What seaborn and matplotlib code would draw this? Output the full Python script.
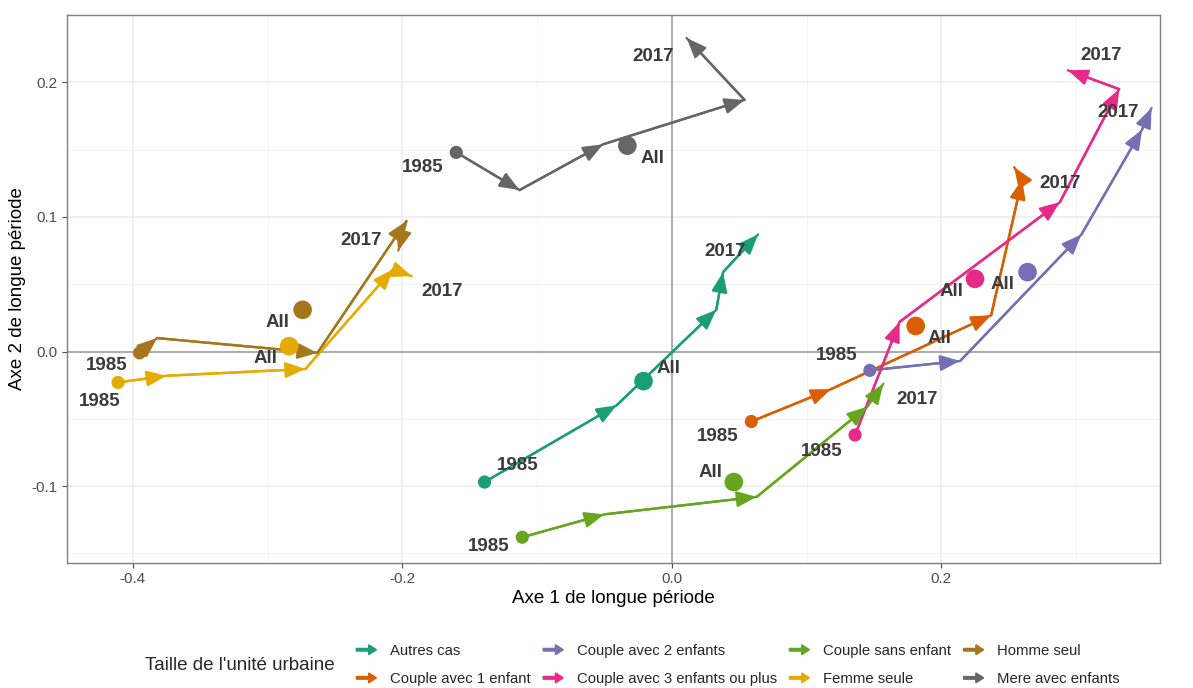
import numpy as np
import pandas as pd
import seaborn as sns
import matplotlib.pyplot as plt
from matplotlib.patches import FancyArrow, Patch
from matplotlib.legend_handler import HandlerPatch
from matplotlib.ticker import MultipleLocator, FormatStrFormatter

groups = ['Autres cas', 'Couple avec 1 enfant', 'Couple avec 2 enfants',
          'Couple avec 3 enfants ou plus', 'Couple sans enfant', 'Femme seule',
          'Homme seul', 'Mere avec enfants']

# trajectories 1985 -> 2017 (one list per group)
path_x = [[-0.139, -0.041, 0.033, 0.038, 0.064],
          [0.059, 0.118, 0.237, 0.260, 0.254],
          [0.147, 0.214, 0.304, 0.349, 0.356],
          [0.136, 0.169, 0.288, 0.332, 0.294],
          [-0.111, -0.050, 0.063, 0.145, 0.157],
          [-0.411, -0.375, -0.272, -0.207, -0.193],
          [-0.395, -0.382, -0.263, -0.197, -0.203],
          [-0.160, -0.113, -0.051, 0.054, 0.011]]
path_y = [[-0.097, -0.040, 0.031, 0.059, 0.087],
          [-0.052, -0.028, 0.027, 0.128, 0.137],
          [-0.014, -0.007, 0.087, 0.165, 0.181],
          [-0.062, 0.022, 0.111, 0.195, 0.209],
          [-0.138, -0.121, -0.108, -0.041, -0.024],
          [-0.023, -0.018, -0.013, 0.061, 0.056],
          [-0.001, 0.010, -0.001, 0.097, 0.075],
          [0.148, 0.120, 0.154, 0.187, 0.233]]

# overall position ("All")
all_x = [-0.021, 0.181, 0.264, 0.225, 0.046, -0.284, -0.274, -0.033]
all_y = [-0.022, 0.019, 0.059, 0.054, -0.097, 0.004, 0.031, 0.153]

first_year, last_year, all_label = '1985', '2017', 'All'

# label offsets in points (repel-like placement)
off_first = [(24, 12), (-24, -11), (-24, 11), (-24, -12), (-24, -7), (-13, -14), (-24, -9), (-24, -11)]
off_all = [(18, 9), (17, -9), (-18, -9), (-17, -9), (-17, 7), (-17, -9), (-18, -9), (18, -9)]
off_last = [(-24, -12), (33, -12), (-24, -3), (24, 11), (24, -11), (22, -11), (-27, 7), (-24, -13)]

rows = []
for g, xs, ys in zip(groups, path_x, path_y):
    for i, (x, y) in enumerate(zip(xs, ys)):
        rows.append({'groupe': g, 'step': i, 'x': x, 'y': y})
df = pd.DataFrame(rows)
df_all = pd.DataFrame({'groupe': groups, 'x': all_x, 'y': all_y})

sns.set_theme(style='whitegrid')
plt.rcParams['font.family'] = ['Liberation Sans', 'DejaVu Sans']
plt.rcParams['axes.unicode_minus'] = False

palette = dict(zip(groups, sns.color_palette('Dark2', 8)))

fig, ax = plt.subplots(figsize=(11.93, 6.88), dpi=100)
fig.subplots_adjust(left=0.056, right=0.972, top=0.978, bottom=0.182)

ax.axhline(0, color='#9a9a9a', lw=1.1, zorder=1)
ax.axvline(0, color='#9a9a9a', lw=1.1, zorder=1)

sns.lineplot(data=df, x='x', y='y', hue='groupe', estimator=None, sort=False,
             palette=palette, lw=1.7, legend=False, ax=ax, zorder=2)

# arrowheads at the end of every segment
for g, xs, ys in zip(groups, path_x, path_y):
    for i in range(1, len(xs)):
        ax.annotate('', xy=(xs[i], ys[i]), xytext=(xs[i - 1], ys[i - 1]),
                    arrowprops=dict(arrowstyle='-|>,head_length=0.6,head_width=0.24',
                                    color=palette[g], lw=1.7, mutation_scale=20,
                                    shrinkA=0, shrinkB=0), zorder=3)

sns.scatterplot(data=df[df.step == 0], x='x', y='y', hue='groupe', palette=palette,
                s=90, edgecolor='none', legend=False, ax=ax, zorder=4)
sns.scatterplot(data=df_all, x='x', y='y', hue='groupe', palette=palette,
                s=180, edgecolor='none', legend=False, ax=ax, zorder=4)

txt = dict(textcoords='offset points', ha='center', va='center',
           fontsize=13.5, fontweight='bold', color='#3b3b3b', zorder=5)
for k, g in enumerate(groups):
    ax.annotate(first_year, (path_x[k][0], path_y[k][0]), xytext=off_first[k], **txt)
    ax.annotate(all_label, (all_x[k], all_y[k]), xytext=off_all[k], **txt)
    ax.annotate(last_year, (path_x[k][-1], path_y[k][-1]), xytext=off_last[k], **txt)

ax.set_xlim(-0.449, 0.362)
ax.set_ylim(-0.157, 0.250)
ax.xaxis.set_major_locator(MultipleLocator(0.2))
ax.xaxis.set_minor_locator(MultipleLocator(0.1))
ax.yaxis.set_major_locator(MultipleLocator(0.1))
ax.yaxis.set_minor_locator(MultipleLocator(0.05))
ax.xaxis.set_major_formatter(FormatStrFormatter('%.1f'))
ax.yaxis.set_major_formatter(FormatStrFormatter('%.1f'))
ax.grid(which='major', color='#ebebeb', lw=1.1)
ax.grid(which='minor', color='#f3f3f3', lw=0.6)
ax.set_axisbelow(True)
ax.tick_params(which='major', bottom=True, left=True, length=3.5, width=0.8,
               color='#4d4d4d', labelsize=11, labelcolor='#4d4d4d', pad=3)
ax.tick_params(which='minor', length=0)
for s in ax.spines.values():
    s.set_color('#7f7f7f')
    s.set_linewidth(1)

ax.set_xlabel('Axe 1 de longue période', fontsize=13.5, color='black', labelpad=3)
ax.set_ylabel('Axe 2 de longue période', fontsize=13.5, color='black', labelpad=4)


def make_arrow(legend, orig_handle, xdescent, ydescent, width, height, fontsize):
    return FancyArrow(-xdescent, -ydescent + height / 2, width, 0, width=height * 0.25,
                      head_width=height * 0.95, head_length=height * 0.75,
                      length_includes_head=True)


handles = [Patch(color=palette[g]) for g in groups]
fig.legend(handles, groups, loc='center left', bbox_to_anchor=(343 / 1193, 1 - 665 / 688),
           ncol=4, frameon=False, fontsize=10.7, handlelength=1.35, handletextpad=0.9,
           columnspacing=0.85, labelspacing=0.95,
           handler_map={Patch: HandlerPatch(patch_func=make_arrow)})
fig.text(145 / 1193, 1 - 665 / 688, "Taille de l'unité urbaine", fontsize=13.5,
         ha='left', va='center')

fig.savefig('out.png', dpi=100)
